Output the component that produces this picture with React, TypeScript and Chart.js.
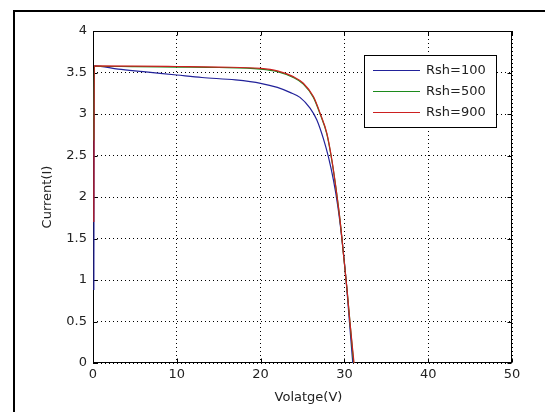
import React, { useEffect, useRef } from "react";
import { Chart, registerables } from "chart.js";
Chart.register(...registerables);

const xTitle = "Volatge(V)";
const yTitle = "Current(I)";
const seriesLabels = ["Rsh=100", "Rsh=500", "Rsh=900"];
const seriesColors = ["#22229a", "#1c8a1c", "#cc2020"];

const rsh100V = [0.1, 0.15, 3, 6, 10, 13, 17, 20, 22, 23.5, 24.7, 25.9, 26.7, 27.5, 28.1, 28.7, 29.2, 29.7, 30.2, 30.6, 31.0];
const rsh100I = [0.88, 3.58, 3.54, 3.51, 3.47, 3.44, 3.41, 3.37, 3.32, 3.26, 3.2, 3.07, 2.93, 2.7, 2.48, 2.2, 1.9, 1.5, 1.0, 0.5, 0];

const rsh500V = [0.1, 0.15, 5, 10, 15, 20, 22, 23.9, 25.1, 26.3, 27.1, 27.9, 28.5, 29.0, 29.5, 29.9, 30.3, 30.7, 31.1];
const rsh500I = [2.68, 3.575, 3.57, 3.565, 3.56, 3.54, 3.51, 3.44, 3.36, 3.2, 3.0, 2.76, 2.44, 2.1, 1.7, 1.3, 0.9, 0.45, 0];

const rsh900V = [0.1, 0.15, 5, 10, 15, 20, 22, 23.9, 25.1, 26.3, 27.1, 27.9, 28.5, 29.0, 29.5, 29.9, 30.3, 30.7, 31.15];
const rsh900I = [1.7, 3.58, 3.578, 3.572, 3.565, 3.55, 3.52, 3.45, 3.37, 3.21, 3.01, 2.77, 2.45, 2.1, 1.7, 1.3, 0.9, 0.45, 0];

const xMin = 0, xMax = 50, xStep = 10;
const yMin = 0, yMax = 4, yStep = 0.5;

const FONT = "DejaVu Sans";
const TEXT = "#222";

function pts(v: number[], i: number[]) {
  return v.map((x, k) => ({ x, y: i[k] }));
}

const decor = {
  id: "decor",
  beforeDraw(chart: any) {
    const ctx = chart.ctx;
    ctx.save();
    ctx.fillStyle = "#fff";
    ctx.fillRect(0, 0, chart.width, chart.height);
    ctx.strokeStyle = "#000";
    ctx.lineWidth = 2;
    ctx.beginPath();
    ctx.moveTo(14, chart.height);
    ctx.lineTo(14, 11);
    ctx.lineTo(chart.width, 11);
    ctx.stroke();
    ctx.restore();
  },
  beforeDatasetsDraw(chart: any) {
    const ctx = chart.ctx;
    const a = chart.chartArea;
    const xs = chart.scales.x, ys = chart.scales.y;
    ctx.save();
    ctx.strokeStyle = "#000";
    ctx.lineWidth = 1;
    const l = Math.round(a.left) + 0.5, r = Math.round(a.right) - 0.5;
    const t = Math.round(a.top) + 0.5, b = Math.round(a.bottom) - 0.5;
    ctx.strokeRect(l, t, r - l, b - t);
    ctx.beginPath();
    for (let v = xMin; v <= xMax; v += xStep) {
      const p = Math.round(xs.getPixelForValue(v)) + 0.5;
      ctx.moveTo(p, b); ctx.lineTo(p, b - 4);
      ctx.moveTo(p, t); ctx.lineTo(p, t + 4);
    }
    for (let v = yMin; v <= yMax; v += yStep) {
      const p = Math.round(ys.getPixelForValue(v)) + 0.5;
      ctx.moveTo(l, p); ctx.lineTo(l + 4, p);
      ctx.moveTo(r, p); ctx.lineTo(r - 4, p);
    }
    ctx.stroke();
    ctx.restore();
  },
  afterDraw(chart: any) {
    const ctx = chart.ctx;
    const a = chart.chartArea;
    ctx.save();
    ctx.fillStyle = TEXT;
    ctx.font = `13px "${FONT}"`;
    ctx.textAlign = "center";
    ctx.textBaseline = "middle";
    ctx.fillText(xTitle, (a.left + a.right) / 2 + 6, 398);
    ctx.save();
    ctx.translate(48, (a.top + a.bottom) / 2);
    ctx.rotate(-Math.PI / 2);
    ctx.fillText(yTitle, 0, 0);
    ctx.restore();
    // legend
    const lx = 364, ly = 55, lw = 132, lh = 72;
    ctx.fillStyle = "#fff";
    ctx.fillRect(lx, ly, lw, lh);
    ctx.strokeStyle = "#000";
    ctx.lineWidth = 1;
    ctx.strokeRect(lx + 0.5, ly + 0.5, lw, lh);
    ctx.textAlign = "left";
    seriesLabels.forEach((lab, k) => {
      const y = 70.5 + k * 21;
      ctx.strokeStyle = seriesColors[k];
      ctx.beginPath();
      ctx.moveTo(373, y);
      ctx.lineTo(420, y);
      ctx.stroke();
      ctx.fillStyle = TEXT;
      ctx.fillText(lab, 426, y);
    });
    ctx.restore();
  },
};

export default function App() {
  const ref = useRef<HTMLCanvasElement>(null);
  useEffect(() => {
    const series = [pts(rsh100V, rsh100I), pts(rsh500V, rsh500I), pts(rsh900V, rsh900I)];
    const chart = new Chart(ref.current!, {
      type: "line",
      data: {
        datasets: series.map((d, k) => ({
          label: seriesLabels[k],
          data: d,
          borderColor: seriesColors[k],
          backgroundColor: seriesColors[k],
          borderWidth: 1.2,
          pointRadius: 0,
          order: series.length - k,
          cubicInterpolationMode: "monotone" as const,
          clip: false as any,
        })),
      },
      options: {
        animation: false,
        responsive: false,
        devicePixelRatio: 1,
        layout: { padding: { top: 31, right: 33, left: 0, bottom: 0 } },
        plugins: { legend: { display: false }, tooltip: { enabled: false } },
        scales: {
          x: {
            type: "linear",
            min: xMin,
            max: xMax,
            ticks: { stepSize: xStep, font: { family: FONT, size: 13 }, color: TEXT, padding: 4, maxRotation: 0, callback: (v: any) => String(v) },
            grid: { color: "#000", drawTicks: false, lineWidth: 1 },
            border: { display: false, dash: [1, 3] },
            afterFit: (s: any) => { s.height = 49; },
          },
          y: {
            type: "linear",
            min: yMin,
            max: yMax,
            ticks: { stepSize: yStep, font: { family: FONT, size: 13 }, color: TEXT, padding: 6, callback: (v: any) => String(v) },
            grid: { color: "#000", drawTicks: false, lineWidth: 1 },
            border: { display: false, dash: [1, 3] },
            afterFit: (s: any) => { s.width = 93; },
          },
        },
      },
      plugins: [decor],
    });
    return () => chart.destroy();
  }, []);
  return (
    <div style={{ position: "fixed", left: 0, top: 0, width: 545, height: 412 }}>
      <canvas ref={ref} width={545} height={412} style={{ width: 545, height: 412, display: "block" }} />
    </div>
  );
}
